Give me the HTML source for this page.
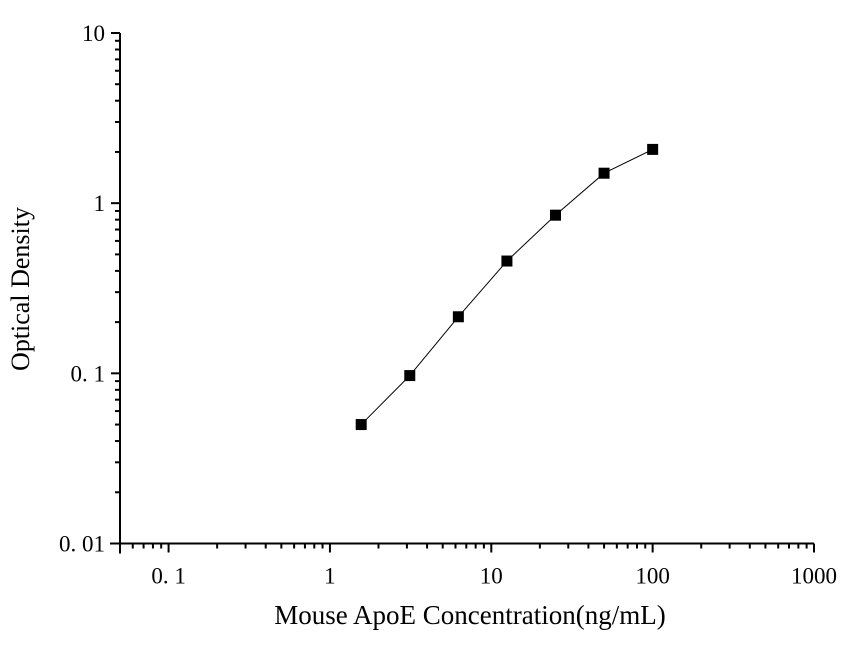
<!DOCTYPE html>
<html><head><meta charset="utf-8"><style>
body{margin:0;background:#fff;}
text{font-family:"Liberation Serif",serif;fill:#000;}
</style></head><body>
<svg id="chart" width="845" height="643" xmlns="http://www.w3.org/2000/svg">
<g id="axes"></g>
<g id="series"></g>
<text x="470" y="624" font-size="27" text-anchor="middle">Mouse ApoE Concentration(ng/mL)</text>
<text transform="translate(29,289) rotate(-90)" font-size="26" text-anchor="middle">Optical Density</text>
</svg>
<script>
const concentrations=[1.5625,3.125,6.25,12.5,25,50,100];
const odValues=[0.05,0.097,0.215,0.457,0.85,1.5,2.07];
const xTickLabels=["0. 1","1","10","100","1000"];
const xTickValues=[0.1,1,10,100,1000];
const yTickLabels=["0. 01","0. 1","1","10"];
const yTickValues=[0.01,0.1,1,10];
const NS="http://www.w3.org/2000/svg";
const x0=120,x1=814,y0=543.5,yTop=33;
const xMinL=Math.log10(0.05),xMaxL=3;
const X=v=>x0+(Math.log10(v)-xMinL)/(xMaxL-xMinL)*(x1-x0);
const Y=v=>y0-(Math.log10(v)+2)/3*(y0-yTop);
function mk(t,a,p){const e=document.createElementNS(NS,t);for(const k in a)e.setAttribute(k,a[k]);p.appendChild(e);return e;}
const ax=document.getElementById('axes');
const xl=mk('line',{x1:110,y1:y0,x2:x1,y2:y0,stroke:'#000','stroke-width':2},ax);


const yl=mk('line',{x1:x0,y1:yTop,x2:x0,y2:y0+10,stroke:'#000','stroke-width':2},ax);


for(let d=-2;d<3;d++){for(let m=1;m<10;m++){const v=m*Math.pow(10,d);if(v<0.05||v>1000)continue;const px=X(v);const maj=m===1;
const t=mk('line',{x1:px,y1:y0,x2:px,y2:y0+(maj?9:5),stroke:'#000','stroke-width':2},ax);

}}
const lastT=mk('line',{x1:X(1000),y1:y0,x2:X(1000),y2:y0+9,stroke:'#000','stroke-width':2},ax);


xTickValues.forEach((v,i)=>{const t=mk('text',{x:X(v),y:y0+40,'font-size':23,'text-anchor':'middle'},ax);t.textContent=xTickLabels[i];

});
for(let d=-2;d<1;d++){for(let m=1;m<10;m++){const v=m*Math.pow(10,d);const py=Y(v);const maj=m===1;
const t=mk('line',{x1:x0,y1:py,x2:x0-(maj?9:5),y2:py,stroke:'#000','stroke-width':2},ax);

}}
const topT=mk('line',{x1:x0,y1:Y(10),x2:x0-9,y2:Y(10),stroke:'#000','stroke-width':2},ax);


yTickValues.forEach((v,i)=>{const t=mk('text',{x:x0-15,y:Y(v)+8,'font-size':23,'text-anchor':'end'},ax);t.textContent=yTickLabels[i];

});
const sg=document.getElementById('series');
const pl=mk('polyline',{points:concentrations.map((c,i)=>X(c)+','+Y(odValues[i])).join(' '),fill:'none',stroke:'#000','stroke-width':1},sg);


concentrations.forEach((c,i)=>{const r=mk('rect',{x:X(c)-5.5,y:Y(odValues[i])-5.5,width:11,height:11,fill:'#000'},sg);

});
</script>
</body></html>
